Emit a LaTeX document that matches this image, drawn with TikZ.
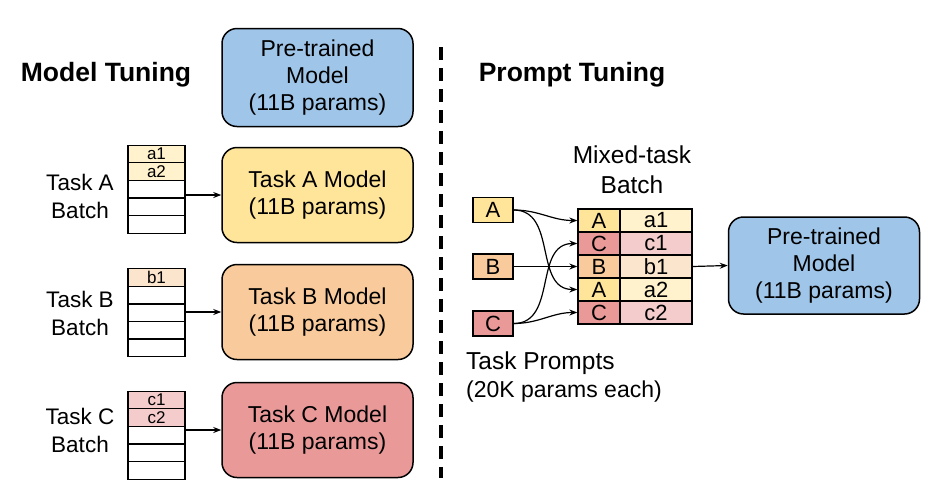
\documentclass[tikz,border=0pt]{standalone}
\usepackage{fontspec}
\setmainfont{Liberation Sans}
\usetikzlibrary{arrows.meta}
\definecolor{cblue}{HTML}{9FC5E8}
\definecolor{cyellow}{HTML}{FFE599}
\definecolor{corange}{HTML}{F9CB9C}
\definecolor{cred}{HTML}{EA9999}
\definecolor{lyellow}{HTML}{FFF2CC}
\definecolor{lorange}{HTML}{FCE5CD}
\definecolor{lred}{HTML}{F4CCCC}
\begin{document}
\begin{tikzpicture}[x=1pt,y=-1pt,
  model/.style={draw, line width=1.5pt, rounded corners=15pt, minimum width=191pt, minimum height=95pt, align=center, inner sep=0pt, font=\fontsize{23}{27}\selectfont},
  cell/.style={draw, line width=1.3pt, minimum width=57pt, minimum height=17.6pt, inner sep=0pt, font=\fontsize{17}{17}\selectfont},
  lcell/.style={draw, line width=1.3pt, minimum width=42pt, minimum height=23pt, inner sep=0pt, font=\fontsize{22}{22}\selectfont},
  vcell/.style={draw, line width=1.3pt, minimum width=72pt, minimum height=23pt, inner sep=0pt, font=\fontsize{22}{22}\selectfont},
  pbox/.style={draw, line width=1.3pt, minimum width=40pt, minimum height=25pt, inner sep=0pt, font=\fontsize{22}{22}\selectfont},
  lbl/.style={align=center, inner sep=0pt, font=\fontsize{22.5}{28}\selectfont},
  ttl/.style={inner sep=0pt, font=\bfseries\fontsize{26.5}{30}\selectfont},
  arr/.style={line width=1.2pt, -{Stealth[length=8pt,width=6pt]}}
]
\useasboundingbox (0,0) rectangle (940,499);

% titles
\node[ttl] (mt) at (106,75) {Model Tuning};
\node[ttl] (pt) at (572,75) {Prompt Tuning};

% divider
\draw[line width=3.5pt, dash pattern=on 13pt off 8pt] (441,47) -- (441,478);

% left models
\node[model, fill=cblue, minimum height=98pt] (pm) at (317.5,77.5) {Pre-trained\\Model\\(11B params)};
\node[model, fill=cyellow] (mA) at (317.5,195) {Task A Model\\(11B params)};
\node[model, fill=corange] (mB) at (317.5,312) {Task B Model\\(11B params)};
\node[model, fill=cred] (mC) at (317.5,430) {Task C Model\\(11B params)};

% Task A batch
\node[cell, fill=lyellow] (a1) at (156.5,154) {a1};
\node[cell, fill=lyellow] (a2) at (156.5,171.6) {a2};
\node[cell] (a3) at (156.5,189.2) {};
\node[cell] (a4) at (156.5,206.8) {};
\node[cell] (a5) at (156.5,224.4) {};
% Task B batch
\node[cell, fill=lorange] (b1) at (156.5,277.5) {b1};
\node[cell] (b2) at (156.5,295.1) {};
\node[cell] (b3) at (156.5,312.7) {};
\node[cell] (b4) at (156.5,330.3) {};
\node[cell] (b5) at (156.5,347.9) {};
% Task C batch
\node[cell, fill=lred] (c1) at (156.5,400) {c1};
\node[cell, fill=lred] (c2) at (156.5,417.6) {c2};
\node[cell] (c3) at (156.5,435.2) {};
\node[cell] (c4) at (156.5,452.8) {};
\node[cell] (c5) at (156.5,470.4) {};

\node[lbl] (lA) at (80,196) {Task A\\Batch};
\node[lbl] (lB) at (80,313) {Task B\\Batch};
\node[lbl] (lC) at (80,430) {Task C\\Batch};

\draw[arr] (a3.east |- mA.west) -- (mA.west);
\draw[arr] (b3.east |- mB.west) -- (mB.west);
\draw[arr] (c3.east |- mC.west) -- (mC.west);

% right side
\node[lbl, font=\fontsize{24.5}{30}\selectfont] (mix) at (632,170) {Mixed-task\\Batch};

\node[lcell, fill=cyellow] (r1) at (599,220.5) {A};
\node[lcell, fill=cred]    (r2) at (599,243.5) {C};
\node[lcell, fill=corange] (r3) at (599,266.5) {B};
\node[lcell, fill=cyellow] (r4) at (599,289.5) {A};
\node[lcell, fill=cred]    (r5) at (599,312.5) {C};
\node[vcell, fill=lyellow] (v1) at (656,220.5) {a1};
\node[vcell, fill=lred]    (v2) at (656,243.5) {c1};
\node[vcell, fill=lorange] (v3) at (656,266.5) {b1};
\node[vcell, fill=lyellow] (v4) at (656,289.5) {a2};
\node[vcell, fill=lred]    (v5) at (656,312.5) {c2};

\node[pbox, fill=cyellow] (pA) at (493,210) {A};
\node[pbox, fill=corange] (pB) at (493,266.5) {B};
\node[pbox, fill=cred]    (pC) at (493,323.5) {C};

\node[lbl, align=left, anchor=west, font=\fontsize{23}{28}\selectfont] (tp) at (466,377) {\fontsize{24.5}{28}\selectfont Task Prompts\\(20K params each)};

\node[model, fill=cblue, minimum height=97pt] (pm2) at (824,265.5) {Pre-trained\\Model\\(11B params)};

\draw[arr] (pA.east) to[out=0,in=180] (r1.west);
\draw[arr] (pA.east) to[out=0,in=180,looseness=1.1] (r4.west);
\draw[arr] (pB.east) -- (r3.west);
\draw[arr] (pC.east) to[out=0,in=180,looseness=1.1] (r2.west);
\draw[arr] (pC.east) to[out=0,in=180] (r5.west);
\draw[arr] (v3.east) -- (pm2.west);
\end{tikzpicture}
\end{document}
